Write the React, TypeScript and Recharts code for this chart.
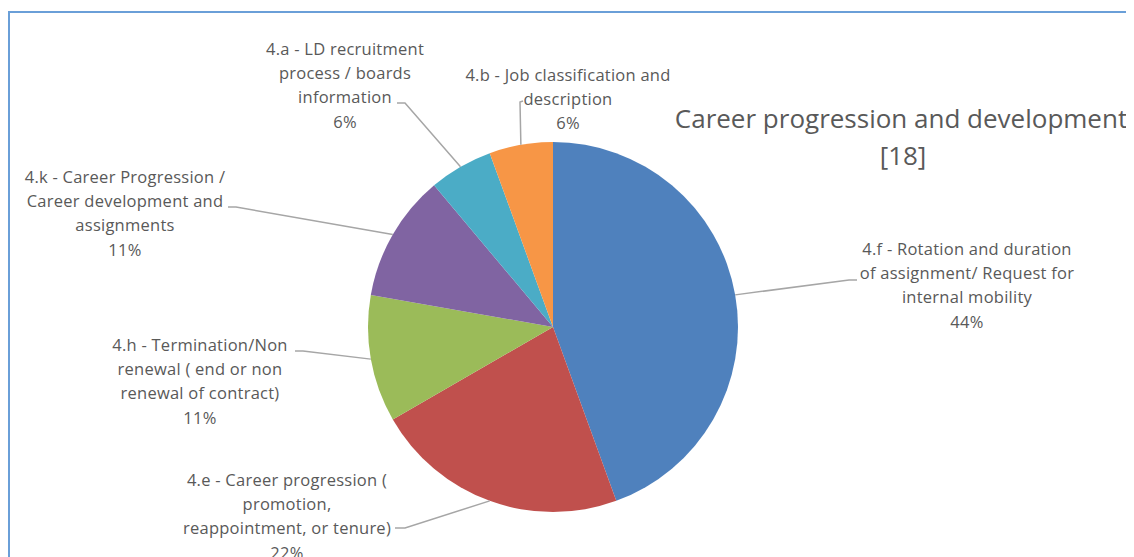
import { PieChart, Pie, Cell } from "recharts";

const categories = [
  "4.f - Rotation and duration of assignment/ Request for internal mobility",
  "4.e - Career progression ( promotion, reappointment, or tenure)",
  "4.h - Termination/Non renewal ( end or non renewal of contract)",
  "4.k - Career Progression / Career development and assignments",
  "4.a - LD recruitment process / boards information",
  "4.b - Job classification and description",
];
const labelLines = [
  ["4.f - Rotation and duration", "of assignment/ Request for", "internal mobility"],
  ["4.e - Career progression (", "promotion,", "reappointment, or tenure)"],
  ["4.h - Termination/Non", "renewal ( end or non", "renewal of contract)"],
  ["4.k - Career Progression /", "Career development and", "assignments"],
  ["4.a - LD recruitment", "process / boards", "information"],
  ["4.b - Job classification and", "description"],
];
const counts = [8, 4, 2, 2, 1, 1];
const colors = ["#4f81bd", "#c0504d", "#9bbb59", "#8064a2", "#4bacc6", "#f79646"];
const total = counts.reduce((s, v) => s + v, 0);

const data = categories.map((name, i) => ({ name, value: counts[i] }));

// label placement, relative to pie centre: text centre / first line y, elbow, end of leader
const labelLayout = [
  { tx: 414, ty: -79, elbow: [296, -47], end: [304, -47] },
  { tx: -266, ty: 152, elbow: [-148, 201], end: [-158, 201] },
  { tx: -353, ty: 17, elbow: [-250, 24], end: [-258, 24] },
  { tx: -428, ty: -151, elbow: [-317, -120], end: [-325, -120] },
  { tx: -208, ty: -279, elbow: [-148, -224], end: [-156, -224] },
  { tx: 15, ty: -253, elbow: [-33, -225], end: [-30, -226] },
];

const W = 1126;
const H = 549;
const CX = 545;
const CY = 319;
const R = 185;
const LINE_H = 24.4;
const FONT = "'Open Sans', Lato, sans-serif";

// eslint-disable-next-line @typescript-eslint/no-explicit-any
const renderLabel = (props: any) => {
  const { cx, cy, midAngle, outerRadius, index, value } = props;
  const rad = Math.PI / 180;
  const sx = cx + outerRadius * Math.cos(-midAngle * rad);
  const sy = cy + outerRadius * Math.sin(-midAngle * rad);
  const lay = labelLayout[index];
  const lines = [...labelLines[index], `${Math.round((value / total) * 100)}%`];
  return (
    <g>
      <polyline
        points={`${sx},${sy} ${cx + lay.elbow[0]},${cy + lay.elbow[1]} ${cx + lay.end[0]},${cy + lay.end[1]}`}
        fill="none"
        stroke="#a6a6a6"
        strokeWidth={1.5}
      />
      {lines.map((t, i) => (
        <text
          key={i}
          x={cx + lay.tx}
          y={cy + lay.ty + i * LINE_H}
          textAnchor="middle"
          dominantBaseline="central"
          fontFamily={FONT}
          fontSize={16.5}
          letterSpacing={0.25}
          fill="#595959"
        >
          {t}
        </text>
      ))}
    </g>
  );
};

export default function App() {
  return (
    <div style={{ position: "relative", width: W, height: H, background: "#fff" }}>
      <div
        style={{
          position: "absolute",
          left: 0,
          top: 3,
          right: -20,
          bottom: -20,
          borderLeft: "2px solid #6a9fd8",
          borderTop: "2px solid #6a9fd8",
        }}
      />
      <PieChart
        width={W}
        height={H}
        margin={{ top: 0, right: 0, bottom: 0, left: 0 }}
        style={{ position: "absolute", left: 0, top: 0 }}
      >
        <text x={893} y={110} textAnchor="middle" dominantBaseline="central" fontFamily={FONT} fontSize={26} fill="#595959">
          Career progression and development
        </text>
        <text x={895} y={147} textAnchor="middle" dominantBaseline="central" fontFamily={FONT} fontSize={26} fill="#595959">
          [18]
        </text>
        <Pie
          data={data}
          dataKey="value"
          nameKey="name"
          cx={CX}
          cy={CY}
          outerRadius={R}
          startAngle={90}
          endAngle={-270}
          stroke="none"
          label={renderLabel}
          labelLine={false}
          isAnimationActive={false}
        >
          {data.map((d, i) => (
            <Cell key={d.name} fill={colors[i]} />
          ))}
        </Pie>
      </PieChart>
    </div>
  );
}
